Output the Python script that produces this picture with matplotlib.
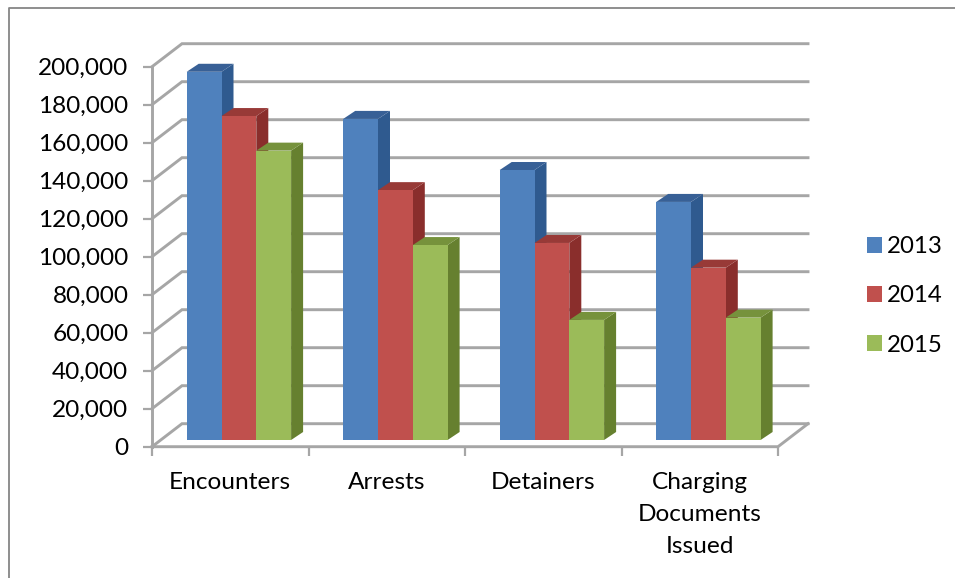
import matplotlib
matplotlib.use("Agg")
import matplotlib.pyplot as plt
from matplotlib.lines import Line2D
from matplotlib.patches import Polygon, Patch

plt.rcParams['font.family'] = ['Lato', 'DejaVu Sans']

# data
categories = ['Encounters', 'Arrests', 'Detainers', 'Charging\nDocuments\nIssued']
years = ['2013', '2014', '2015']
values_2013 = [193800, 169000, 142100, 125300]
values_2014 = [170500, 131500, 103700, 90700]
values_2015 = [152300, 102600, 63200, 64400]
y_ticks = list(range(0, 200001, 20000))

front_colors = ['#4F81BD', '#C0504D', '#9BBB59']
side_colors = ['#2F5A8F', '#8A2E2C', '#66802F']
top_colors = ['#386096', '#983A37', '#76923C']
grid_color = '#A6A6A6'
FONT = 17.6

W, H = 955, 578
fig = plt.figure(figsize=(W / 100, H / 100), dpi=100)
ax = fig.add_axes([152 / W, (H - 446.7) / H, 626 / W, 380 / H])
ax.set_xlim(0, 4)
ax.set_ylim(0, 200000)

# pixel sizes turned into data units
px_x = 4 / 626
px_y = 200000 / 380
wall_dx, wall_dy = 30 * px_x, 23 * px_y
bar_dx, bar_dy = 12 * px_x, 8 * px_y
bar_start = 34.7 * px_x
bar_w = 34.8 * px_x
bar_base = 6.7 * px_y

for s in ax.spines.values():
    s.set_visible(False)

# walls and floor
for v in y_ticks:
    ax.plot([0, wall_dx, 4 + wall_dx], [v, v + wall_dy, v + wall_dy],
            color=grid_color, lw=2.1, clip_on=False, zorder=1, solid_joinstyle='miter')
ax.plot([0, 0], [0, 200000], color=grid_color, lw=2.1, clip_on=False, zorder=1)
ax.plot([0, 4, 4 + wall_dx], [0, 0, wall_dy], color=grid_color, lw=2.1, clip_on=False, zorder=1)

# bars
series = [values_2013, values_2014, values_2015]
z = 2
for c in range(len(categories)):
    for k, vals in enumerate(series):
        x0 = c + bar_start + k * bar_w
        x1 = x0 + bar_w
        y0 = bar_base
        y1 = bar_base + vals[c]
        ax.add_patch(Polygon([(x1, y0), (x1 + bar_dx, y0 + bar_dy), (x1 + bar_dx, y1 + bar_dy), (x1, y1)],
                             fc=side_colors[k], ec='none', clip_on=False, zorder=z))
        ax.add_patch(Polygon([(x0, y1), (x1, y1), (x1 + bar_dx, y1 + bar_dy), (x0 + bar_dx, y1 + bar_dy)],
                             fc=top_colors[k], ec='none', clip_on=False, zorder=z))
        ax.add_patch(Polygon([(x0, y0), (x1, y0), (x1, y1), (x0, y1)],
                             fc=front_colors[k], ec='none', clip_on=False, zorder=z))
        z += 1

# axis ticks
ax.set_yticks(y_ticks)
ax.set_yticklabels([f'{v:,}' for v in y_ticks], fontsize=FONT, color='black')
ax.tick_params(axis='y', length=6.5, width=1.6, color=grid_color, pad=10.5)
ax.set_xticks(range(5))
ax.set_xticklabels([])
ax.tick_params(axis='x', which='major', length=6.5, width=1.6, color=grid_color)
ax.set_xticks([i + 0.5 for i in range(4)], minor=True)
ax.set_xticklabels(categories, minor=True, fontsize=FONT, color='black', linespacing=1.66)
ax.tick_params(axis='x', which='minor', length=0, pad=18)

# legend
handles = [Patch(fc=front_colors[i], ec='none', label=years[i]) for i in range(3)]
fig.legend(handles=handles, loc='center left', bbox_to_anchor=(867 / W, (H - 296) / H),
           frameon=False, fontsize=FONT - 0.3, borderpad=0, borderaxespad=0,
           handlelength=0.62, handleheight=0.62, handletextpad=0.22, labelspacing=1.17)

# outer frame, only left and top show
fig.add_artist(Line2D([9 / W, 9 / W, 1], [0, (H - 8) / H, (H - 8) / H],
                      color='#868686', lw=1.3, transform=fig.transFigure))

fig.savefig('out.png', dpi=100)
